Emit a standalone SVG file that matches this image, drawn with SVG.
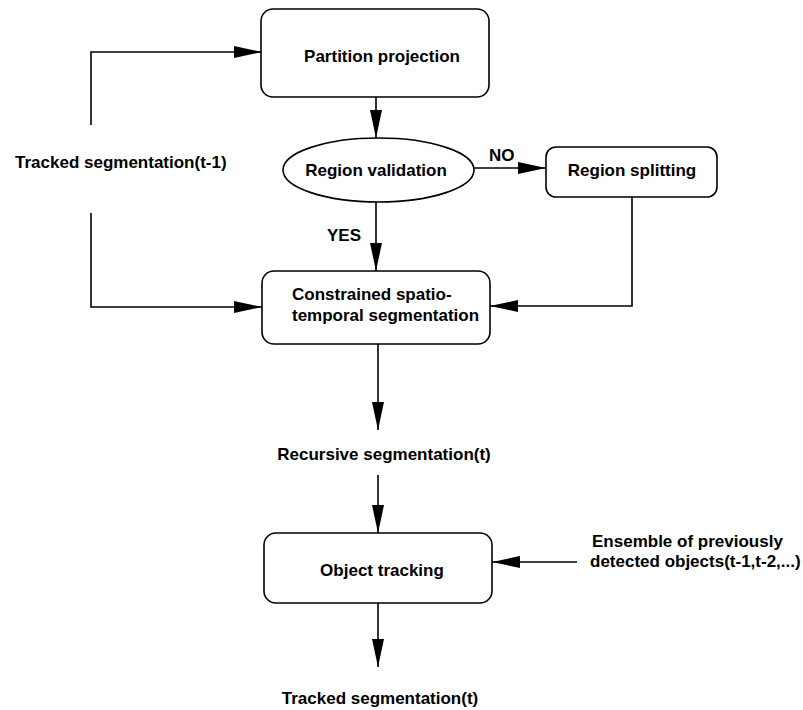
<svg xmlns="http://www.w3.org/2000/svg" width="803" height="710" viewBox="0 0 803 710">
<defs>
<marker id="ah" markerUnits="userSpaceOnUse" markerWidth="28" markerHeight="12" refX="28" refY="6" orient="auto">
<path d="M0,0 L28,6 L0,12 z" fill="#000"/>
</marker>
<style>
.box{fill:#fff;stroke:#000;stroke-width:1.6}
.t{font-family:"Liberation Sans",Arial,Helvetica,sans-serif;font-weight:bold;font-size:17px;fill:#000}
.c{text-anchor:middle}
.ln{fill:none;stroke:#000;stroke-width:1.6}
</style>
</defs>
<rect width="803" height="710" fill="#fff"/>
<g id="connectors">
<path class="ln" d="M91,125 L91,52 L262,52" marker-end="url(#ah)"/>
<path class="ln" d="M376,97 L376,138" marker-end="url(#ah)"/>
<path class="ln" d="M474,168 L546,168" marker-end="url(#ah)"/>
<text class="t" x="489" y="161">NO</text>
<path class="ln" d="M376,202 L376,271" marker-end="url(#ah)"/>
<text class="t" x="327" y="241">YES</text>
<path class="ln" d="M91,213 L91,307 L262,307" marker-end="url(#ah)"/>
<path class="ln" d="M632,197 L632,306 L490,306" marker-end="url(#ah)"/>
<path class="ln" d="M378,344 L378,430" marker-end="url(#ah)"/>
<path class="ln" d="M378,475 L378,533" marker-end="url(#ah)"/>
<path class="ln" d="M577,562 L492,562" marker-end="url(#ah)"/>
<path class="ln" d="M378,603 L378,667" marker-end="url(#ah)"/>
</g>
<g id="tracked-prev">
<text class="t" x="15" y="168">Tracked segmentation(t-1)</text>
</g>
<g id="partition-projection">
<rect class="box" x="261" y="9" width="228" height="88" rx="12"/>
<text class="t c" x="382" y="62">Partition projection</text>
</g>
<g id="region-validation">
<ellipse class="box" cx="378.5" cy="170" rx="95.5" ry="32"/>
<text class="t c" x="376" y="176">Region validation</text>
</g>
<g id="region-splitting">
<rect class="box" x="546" y="147" width="171" height="50" rx="10"/>
<text class="t c" x="632" y="176">Region splitting</text>
</g>
<g id="constrained-segmentation">
<rect class="box" x="262" y="271" width="228" height="73" rx="12"/>
<text class="t" x="292" y="300">Constrained spatio-</text>
<text class="t" x="292" y="321">temporal segmentation</text>
</g>
<g id="recursive-segmentation">
<text class="t c" x="384" y="460">Recursive segmentation(t)</text>
</g>
<g id="object-tracking">
<rect class="box" x="264" y="533" width="228" height="70" rx="12"/>
<text class="t c" x="382" y="576">Object tracking</text>
</g>
<g id="ensemble">
<text class="t" x="592" y="547">Ensemble of previously</text>
<text class="t" x="590" y="567">detected objects(t-1,t-2,...)</text>
</g>
<g id="tracked-t">
<text class="t c" x="380" y="704">Tracked segmentation(t)</text>
</g>
</svg>
